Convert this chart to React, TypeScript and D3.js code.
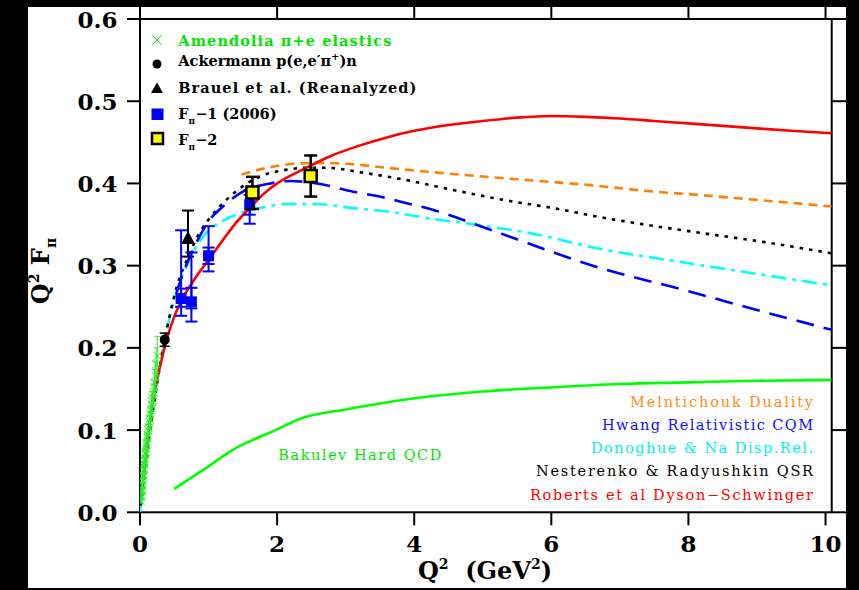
import React from "react";
import * as d3 from "d3";

// ---------- data ----------
const xTicks = [0, 2, 4, 6, 8, 10];
const yTicks = [0.0, 0.1, 0.2, 0.3, 0.4, 0.5, 0.6];

// Amendolia pi+e elastics
const amQ2 = [0.014, 0.018, 0.022, 0.026, 0.030, 0.034, 0.038, 0.042, 0.046, 0.050, 0.055, 0.060, 0.065, 0.070, 0.075, 0.080, 0.085, 0.090, 0.095, 0.100, 0.107, 0.114, 0.121, 0.128, 0.136, 0.144, 0.152, 0.160, 0.170, 0.180, 0.190, 0.200, 0.212, 0.224, 0.238, 0.253];
const amF = [0.013, 0.018, 0.020, 0.025, 0.027, 0.032, 0.034, 0.038, 0.043, 0.045, 0.051, 0.053, 0.058, 0.062, 0.065, 0.071, 0.073, 0.078, 0.082, 0.084, 0.091, 0.094, 0.100, 0.103, 0.110, 0.113, 0.120, 0.124, 0.131, 0.135, 0.143, 0.146, 0.158, 0.166, 0.180, 0.190];
const amErr = [0.002, 0.002, 0.002, 0.002, 0.002, 0.003, 0.003, 0.003, 0.003, 0.003, 0.004, 0.004, 0.004, 0.004, 0.005, 0.005, 0.005, 0.005, 0.006, 0.006, 0.006, 0.007, 0.007, 0.008, 0.008, 0.009, 0.009, 0.010, 0.011, 0.012, 0.013, 0.014, 0.016, 0.018, 0.020, 0.024];

// Ackermann
const akQ2 = [0.36];
const akF = [0.21];
const akErr = [0.008];

// Brauel (reanalyzed)
const brQ2 = [0.70];
const brF = [0.333];
const brLo = [0.311];
const brHi = [0.367];

// F_pi-1 (2006)
const f1Q2 = [0.60, 0.75, 1.00, 1.60];
const f1F = [0.260, 0.256, 0.312, 0.374];
const f1Lo = [0.239, 0.232, 0.293, 0.351];
const f1Hi = [0.343, 0.316, 0.348, 0.392];
const f1StatLo = [0.250, 0.248, 0.302, 0.362];
const f1StatHi = [0.272, 0.273, 0.322, 0.386];

// F_pi-2
const f2Q2 = [1.64, 2.49];
const f2F = [0.389, 0.409];
const f2Lo = [0.369, 0.384];
const f2Hi = [0.408, 0.434];

// Theory curves [Q2, Q2*F]
const melnitchouk: [number, number][] = [[1.48, 0.411], [1.8, 0.418], [2.14, 0.423], [2.6, 0.425], [3.0, 0.424], [3.6, 0.419], [4.5, 0.412], [5.5, 0.405], [6.13, 0.401], [6.56, 0.398], [7.5, 0.390], [8.0, 0.387], [9.0, 0.380], [10.09, 0.372]];
const hwang: [number, number][] = [[0.53, 0.266], [0.63, 0.291], [0.83, 0.329], [1.0, 0.354], [1.21, 0.372], [1.5, 0.390], [1.9, 0.400], [2.19, 0.403], [2.58, 0.400], [3.11, 0.390], [3.5, 0.384], [3.89, 0.376], [4.27, 0.368], [5.0, 0.347], [5.5, 0.332], [6.0, 0.317], [6.56, 0.301], [8.0, 0.269], [9.0, 0.246], [10.09, 0.222]];
const donoghue: [number, number][] = [[0.0, 0.0], [0.05, 0.040], [0.1, 0.075], [0.2, 0.135], [0.3, 0.183], [0.456, 0.245], [0.51, 0.262], [0.7, 0.303], [1.0, 0.343], [1.2, 0.354], [1.46, 0.364], [1.75, 0.370], [2.14, 0.375], [2.53, 0.375], [3.11, 0.370], [3.6, 0.366], [4.18, 0.358], [5.06, 0.348], [5.79, 0.338], [6.56, 0.323], [8.0, 0.303], [9.0, 0.290], [10.09, 0.276]];
const nesterenko: [number, number][] = [[0.01, 0.008], [0.05, 0.038], [0.1, 0.072], [0.15, 0.102], [0.2, 0.130], [0.29, 0.177], [0.43, 0.238], [0.55, 0.278], [0.7, 0.310], [0.85, 0.337], [1.0, 0.356], [1.12, 0.368], [1.26, 0.380], [1.41, 0.391], [1.58, 0.401], [1.8, 0.410], [2.09, 0.416], [2.43, 0.419], [2.72, 0.419], [3.26, 0.413], [3.89, 0.404], [4.57, 0.392], [5.3, 0.380], [6.03, 0.370], [6.71, 0.359], [8.0, 0.342], [9.0, 0.330], [10.09, 0.315]];
const roberts: [number, number][] = [[0.06, 0.048], [0.12, 0.095], [0.2, 0.142], [0.3, 0.180], [0.4, 0.213], [0.5, 0.238], [0.6, 0.257], [0.8, 0.284], [1.0, 0.307], [1.2, 0.330], [1.4, 0.352], [1.6, 0.370], [1.8, 0.387], [2.0, 0.400], [2.4, 0.418], [2.8, 0.434], [3.2, 0.446], [3.6, 0.456], [4.0, 0.464], [4.5, 0.471], [5.0, 0.476], [5.5, 0.480], [6.0, 0.482], [6.5, 0.481], [7.0, 0.479], [7.5, 0.476], [8.0, 0.473], [8.5, 0.470], [9.0, 0.467], [9.5, 0.464], [10.09, 0.461]];
const bakulev: [number, number][] = [[0.5, 0.0284], [0.95, 0.0532], [1.41, 0.0786], [1.9, 0.0970], [2.38, 0.115], [3.0, 0.125], [4.0, 0.1387], [5.0, 0.1470], [6.0, 0.152], [7.0, 0.156], [8.0, 0.158], [9.0, 0.160], [10.09, 0.161]];

const curveLabels = ["Melntichouk Duality", "Hwang Relativistic CQM", "Donoghue & Na Disp.Rel.", "Nesterenko & Radyushkin QSR", "Roberts et al Dyson\u2212Schwinger"];
const curveLabelColors = ["#ff8c1a", "#1010ff", "#00f0f0", "#000000", "#ff0000"];
const curveLabelWidths = [183, 211, 222, 277, 283];

// ---------- layout ----------
const W = 859, H = 590;
const PL = 140, PR = 831.7, PT = 19, PB = 512.3;
const x = d3.scaleLinear().domain([0, 10.09]).range([PL, PR]);
const y = d3.scaleLinear().domain([0, 0.6]).range([PB, PT]);
const line = d3.line<[number, number]>().x(d => x(d[0])).y(d => y(d[1])).curve(d3.curveMonotoneX);

const serif = "'DejaVu Serif', serif";

function ErrBar({ q, lo, hi, color, cap, sw }: { q: number; lo: number; hi: number; color: string; cap: number; sw: number }) {
  const cx = x(q);
  return (
    <g stroke={color} strokeWidth={sw}>
      <line x1={cx} x2={cx} y1={y(lo)} y2={y(hi)} />
      <line x1={cx - cap} x2={cx + cap} y1={y(lo)} y2={y(lo)} />
      <line x1={cx - cap} x2={cx + cap} y1={y(hi)} y2={y(hi)} />
    </g>
  );
}

export default function App() {
  const legendX = 178.3;
  return (
    <svg width={W} height={H} style={{ position: "absolute", left: 0, top: 0 }}>
      <defs>
        <clipPath id="plot">
          <rect x={PL} y={PT} width={PR - PL} height={PB - PT} />
        </clipPath>
        <clipPath id="page">
          <rect x={28} y={7} width={818} height={581} />
        </clipPath>
      </defs>
      <rect x={0} y={0} width={W} height={H} fill="#000" />
      <rect x={28} y={7} width={818} height={581} fill="#fff" />

      <g clipPath="url(#page)">
        {/* frame */}
        <rect x={PL} y={PT} width={PR - PL} height={PB - PT} fill="none" stroke="#000" strokeWidth={2} />
        {/* ticks */}
        {xTicks.map(t => (
          <g key={"xt" + t} stroke="#000" strokeWidth={2}>
            <line x1={x(t)} x2={x(t)} y1={PB} y2={PB + 13} />
            <line x1={x(t)} x2={x(t)} y1={PT} y2={PT - 13} />
          </g>
        ))}
        {yTicks.map(t => (
          <g key={"yt" + t} stroke="#000" strokeWidth={2}>
            <line x1={PL - 13} x2={PL} y1={y(t)} y2={y(t)} />
            <line x1={PR} x2={PR + 15} y1={y(t)} y2={y(t)} />
          </g>
        ))}
        {xTicks.map(t => (
          <text key={"xl" + t} x={x(t)} y={552} textAnchor="middle" fontFamily={serif} fontWeight="bold" fontSize={23}>{t}</text>
        ))}
        {yTicks.map(t => (
          <text key={"yl" + t} x={117.5} y={y(t) + 8.5} textAnchor="end" fontFamily={serif} fontWeight="bold" fontSize={23}>{t.toFixed(1)}</text>
        ))}
        {/* axis titles */}
        <text x={485} y={579} textAnchor="middle" fontFamily={serif} fontWeight="bold" fontSize={24}>
          Q<tspan fontSize={14} dy={-10}>2</tspan><tspan dy={10}>{"\u00a0\u00a0(GeV"}</tspan><tspan fontSize={14} dy={-10}>2</tspan><tspan dy={10}>)</tspan>
        </text>
        <text transform="translate(48.5,271) rotate(-90)" textAnchor="middle" fontFamily={serif} fontWeight="bold" fontSize={24}>
          Q<tspan fontSize={14} dy={-10}>2</tspan><tspan dy={10}>{"\u00a0F"}</tspan><tspan fontSize={14} dy={7}>{"\u03c0"}</tspan>
        </text>
      </g>

      {/* theory curves */}
      <g clipPath="url(#plot)" fill="none" strokeWidth={2.6}>
        <path d={line(bakulev) || ""} stroke="#00ff00" />
        <path d={line(donoghue) || ""} stroke="#00ffff" strokeDasharray="15,6,4,6" />
        <path d={line(nesterenko) || ""} stroke="#000" strokeDasharray="3.5,6" />
        <path d={line(hwang) || ""} stroke="#0000ff" strokeDasharray="18,10" />
        <path d={line(melnitchouk) || ""} stroke="#ff8000" strokeDasharray="9,6" />
        <path d={line(roberts) || ""} stroke="#ff0000" />
      </g>

      {/* Amendolia */}
      <g clipPath="url(#plot)">
        {amQ2.map((q, i) => (
          <ErrBar key={"ae" + i} q={q} lo={amF[i] - amErr[i]} hi={amF[i] + amErr[i]} color="#33ee33" cap={3} sw={1} />
        ))}
        {amQ2.map((q, i) => {
          const cx = x(q), cy = y(amF[i]), s = 4;
          return (
            <g key={"am" + i} stroke="#22ee22" strokeWidth={1}>
              <line x1={cx - s} x2={cx + s} y1={cy - s} y2={cy + s} />
              <line x1={cx - s} x2={cx + s} y1={cy + s} y2={cy - s} />
            </g>
          );
        })}
      </g>

      {/* Ackermann */}
      {akQ2.map((q, i) => (
        <g key={"ak" + i}>
          <ErrBar q={q} lo={akF[i] - akErr[i]} hi={akF[i] + akErr[i]} color="#000" cap={5} sw={1.5} />
          <circle cx={x(q)} cy={y(akF[i])} r={5} fill="#000" />
        </g>
      ))}

      {/* Brauel */}
      {brQ2.map((q, i) => {
        const cx = x(q), cy = y(brF[i]);
        return (
          <g key={"br" + i}>
            <ErrBar q={q} lo={brLo[i]} hi={brHi[i]} color="#000" cap={6} sw={2} />
            <path d={`M${cx},${cy - 7.5}L${cx + 7},${cy + 5.5}L${cx - 7},${cy + 5.5}Z`} fill="#000" />
          </g>
        );
      })}

      {/* F_pi-1 */}
      {f1Q2.map((q, i) => {
        const cx = x(q), cy = y(f1F[i]);
        return (
          <g key={"f1" + i}>
            <ErrBar q={q} lo={f1Lo[i]} hi={f1Hi[i]} color="#0000ff" cap={6} sw={2} />
            <ErrBar q={q} lo={f1StatLo[i]} hi={f1StatHi[i]} color="#0000ff" cap={6} sw={2} />
            <rect x={cx - 5.5} y={cy - 5.5} width={11} height={11} fill="#0000ff" />
          </g>
        );
      })}

      {/* F_pi-2 */}
      {f2Q2.map((q, i) => {
        const cx = x(q), cy = y(f2F[i]);
        return (
          <g key={"f2" + i}>
            <ErrBar q={q} lo={f2Lo[i]} hi={f2Hi[i]} color="#000" cap={6.5} sw={2.5} />
            <rect x={cx - 6} y={cy - 6} width={12} height={12} fill="#ffff00" stroke="#000" strokeWidth={2.5} />
          </g>
        );
      })}

      {/* top-left legend */}
      <g fontFamily={serif} fontSize={14.5} fontWeight="bold">
        <g stroke="#22ee22" strokeWidth={1}>
          <line x1={152} x2={162} y1={35} y2={45} />
          <line x1={152} x2={162} y1={45} y2={35} />
        </g>
        <text x={legendX} y={45.5} fill="#00e600" textLength={213} lengthAdjust="spacing">Amendolia {"\u03c0"}+e elastics</text>

        <circle cx={157} cy={64} r={4.5} fill="#000" />
        <text x={legendX} y={66} fill="#000">Ackermann p(e,e{"\u2032"}{"\u03c0"}<tspan fontSize={10} dy={-6}>+</tspan><tspan dy={6}>)n</tspan></text>

        <path d="M157,82.5L163,93L151,93Z" fill="#000" />
        <text x={legendX} y={92.5} fill="#000" textLength={238} lengthAdjust="spacing">Brauel et al. (Reanalyzed)</text>

        <rect x={151.5} y={108.5} width={12} height={11.5} fill="#0000ff" />
        <text x={legendX} y={118.5} fill="#000">F<tspan fontSize={9} dy={5}>{"\u03c0"}</tspan><tspan dy={-5}>{"\u22121 (2006)"}</tspan></text>

        <rect x={152} y={133} width={11} height={11} fill="#ffff00" stroke="#000" strokeWidth={2.5} />
        <text x={legendX} y={145} fill="#000">F<tspan fontSize={9} dy={5}>{"\u03c0"}</tspan><tspan dy={-5}>{"\u22122"}</tspan></text>
      </g>

      {/* curve labels */}
      <g fontFamily={serif} fontSize={14.5}>
        {curveLabels.map((s, i) => (
          <text key={"cl" + i} x={813} y={406.7 + i * 23.2} textAnchor="end" fill={curveLabelColors[i]} textLength={curveLabelWidths[i]} lengthAdjust="spacing">{s}</text>
        ))}
        <text x={278.3} y={460} fill="#00e600" textLength={163} lengthAdjust="spacing">Bakulev Hard QCD</text>
      </g>
    </svg>
  );
}
